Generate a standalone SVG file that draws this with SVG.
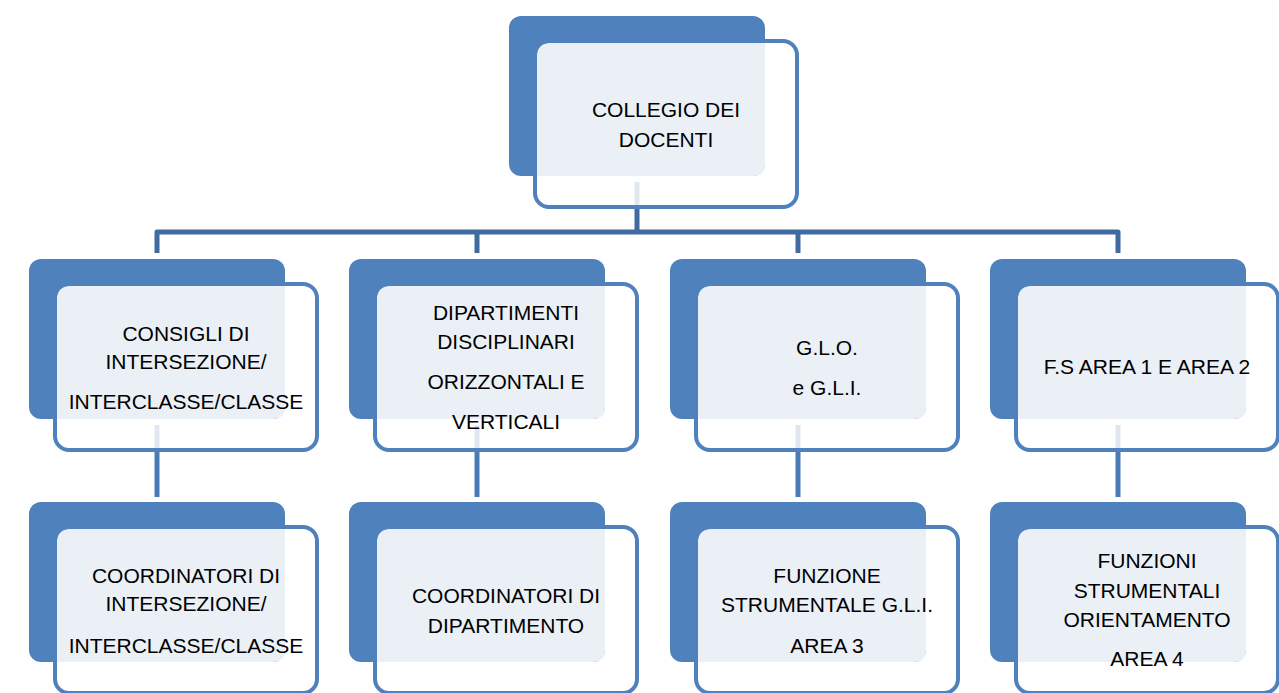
<svg xmlns="http://www.w3.org/2000/svg" xmlns:xlink="http://www.w3.org/1999/xlink" width="1279" height="693" viewBox="0 0 1279 693">
  <style>
    .back { fill: #4F81BD; }
    .light { fill: #EBF0F7; }
    .ghost { stroke: #E1E7F0; stroke-width: 5; fill: none; }
    .front { fill: none; stroke: #4F81BD; stroke-width: 4; }
    .bus { fill: none; stroke: #3F6BA0; stroke-width: 5; stroke-linejoin: round; }
    .link { fill: none; stroke: #4A7AB6; stroke-width: 5; }
    text { font-family: "Liberation Sans", Arial, sans-serif; font-size: 21px; fill: #000000; text-anchor: middle; }
  </style>
  <defs>
    <g id="box">
      <rect class="back" x="0" y="0" width="256" height="160" rx="12"/>
      <path class="light" d="M28,39 Q28,27 40,27 L256,27 L256,148 Q256,160 244,160 L28,160 Z"/>
      <rect class="front" x="26" y="25" width="262" height="166" rx="14"/>
    </g>
    <g id="boxg">
      <rect class="back" x="0" y="0" width="256" height="160" rx="12"/>
      <path class="light" d="M28,39 Q28,27 40,27 L256,27 L256,148 Q256,160 244,160 L28,160 Z"/>
      <line class="ghost" x1="128" y1="166" x2="128" y2="189"/>
      <rect class="front" x="26" y="25" width="262" height="166" rx="14"/>
    </g>
  </defs>

  <g id="connectors">
    <path class="bus" d="M637,209 V232"/>
    <path class="bus" d="M157,253 V232 H1118 V253"/>
    <path class="bus" d="M477,232 V253"/>
    <path class="bus" d="M798,232 V253"/>
    <path class="link" d="M157,452 V497"/>
    <path class="link" d="M477,452 V497"/>
    <path class="link" d="M798,452 V497"/>
    <path class="link" d="M1118,452 V497"/>
  </g>

  <g id="collegio">
    <use xlink:href="#boxg" href="#boxg" x="509" y="16"/>
    <text x="666" y="117">COLLEGIO DEI</text>
    <text x="666" y="147">DOCENTI</text>
  </g>

  <g id="consigli">
    <use xlink:href="#boxg" href="#boxg" x="29" y="259"/>
    <text x="186" y="341">CONSIGLI DI</text>
    <text x="186" y="369">INTERSEZIONE/</text>
    <text x="186" y="409">INTERCLASSE/CLASSE</text>
  </g>

  <g id="dipartimenti">
    <use xlink:href="#boxg" href="#boxg" x="349" y="259"/>
    <text x="506" y="320">DIPARTIMENTI</text>
    <text x="506" y="349">DISCIPLINARI</text>
    <text x="506" y="389">ORIZZONTALI E</text>
    <text x="506" y="429">VERTICALI</text>
  </g>

  <g id="glo">
    <use xlink:href="#boxg" href="#boxg" x="670" y="259"/>
    <text x="827" y="355">G.L.O.</text>
    <text x="827" y="395">e G.L.I.</text>
  </g>

  <g id="fs12">
    <use xlink:href="#boxg" href="#boxg" x="990" y="259"/>
    <text x="1147" y="374">F.S AREA 1 E AREA 2</text>
  </g>

  <g id="coord-intersezione">
    <use xlink:href="#box" href="#box" x="29" y="502"/>
    <text x="186" y="583">COORDINATORI DI</text>
    <text x="186" y="611">INTERSEZIONE/</text>
    <text x="186" y="653">INTERCLASSE/CLASSE</text>
  </g>

  <g id="coord-dipartimento">
    <use xlink:href="#box" href="#box" x="349" y="502"/>
    <text x="506" y="603">COORDINATORI DI</text>
    <text x="506" y="633">DIPARTIMENTO</text>
  </g>

  <g id="fs3">
    <use xlink:href="#box" href="#box" x="670" y="502"/>
    <text x="827" y="583">FUNZIONE</text>
    <text x="827" y="612">STRUMENTALE G.L.I.</text>
    <text x="827" y="653">AREA 3</text>
  </g>

  <g id="fs4">
    <use xlink:href="#box" href="#box" x="990" y="502"/>
    <text x="1147" y="568">FUNZIONI</text>
    <text x="1147" y="598">STRUMENTALI</text>
    <text x="1147" y="627">ORIENTAMENTO</text>
    <text x="1147" y="666">AREA 4</text>
  </g>
</svg>
